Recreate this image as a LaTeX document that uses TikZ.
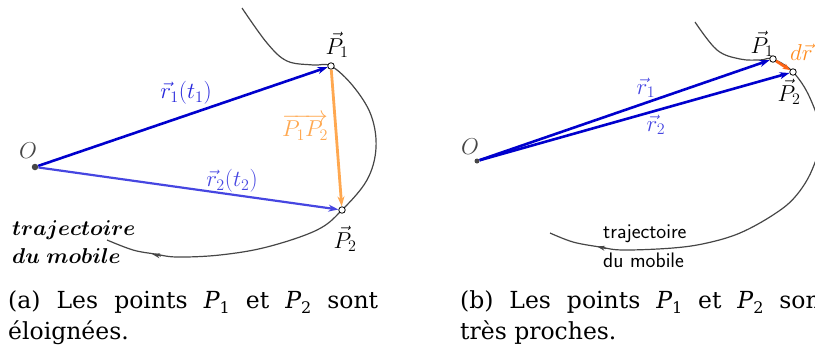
\RequirePackage{fix-cm}
\documentclass[tikz,border=0pt]{standalone}
\usepackage{fontspec}
\usepackage{bm}
\newfontfamily\capfont{DejaVu Serif}
\usetikzlibrary{arrows.meta}
\definecolor{dblue}{RGB}{0,0,205}
\definecolor{mblue}{RGB}{70,70,225}
\definecolor{lblue}{RGB}{40,40,220}
\definecolor{lorange}{RGB}{255,168,80}
\definecolor{dorange}{RGB}{255,100,20}
\definecolor{lbl}{RGB}{255,140,30}
\definecolor{curvegray}{RGB}{70,70,70}
\pgfdeclarelayer{background}
\pgfsetlayers{background,main}
\newcommand{\capP}[1]{{\itshape P}\raisebox{-0.22em}{\fontsize{16}{18}\selectfont #1}}
\begin{document}
\begin{tikzpicture}[x=1pt,y=-1pt,
  vec/.style={line width=2.6pt,-{Stealth[length=10pt,width=7pt]}},
  ptnode/.style={circle,draw=black,fill=white,inner sep=0pt,minimum size=6.5pt,line width=0.8pt},
  orig/.style={circle,fill=curvegray,inner sep=0pt,minimum size=6.5pt},
  traj/.style={draw=curvegray,line width=1.2pt},
  trajtip/.style={draw=curvegray,line width=1.2pt,-{Stealth[length=8pt,width=5pt]}},
  lab/.style={inner sep=0pt,font=\fontsize{23}{27}\selectfont},
  captext/.style={anchor=base west,inner sep=0pt,font=\capfont\fontsize{23.5}{27}\selectfont}]
\useasboundingbox (0,0) rectangle (815,351);
\clip (0,0) rectangle (815,351);

% ---------- panel (a) ----------
\node[orig] (Oa) at (35,167) {};
\node[ptnode] (P1a) at (331,66) {};
\node[ptnode] (P2a) at (342,210) {};
\coordinate (tipa1) at (161,256);
\coordinate (tipa2) at (152,254);
\begin{pgfonlayer}{background}
\draw[traj] plot[smooth,tension=0.6] coordinates {(242,8) (267,43) (287,61) (313,65) (P1a.center) (353,86) (371,115) (376,148) (367,180) (P2a.center) (317,230) (267,247) (220,255) (177,257) (155,254) (133,250) (107,240)};
\end{pgfonlayer}
\draw[trajtip] (tipa1) -- (tipa2);
\draw[vec,dblue] (Oa) -- (P1a);
\draw[vec,mblue,line width=2.2pt] (Oa) -- (P2a);
\draw[vec,lorange,line width=2.8pt] (P1a) -- (P2a);

\node[lab,text=curvegray] (Oalab) at (28,151) {$O$};
\node[lab,text=lblue] (r1a) at (186,93) {$\vec r_1(t_1)$};
\node[lab,text=mblue] (r2a) at (232,181) {$\vec r_2(t_2)$};
\node[lab,text=lorange] (P12a) at (305,127) {$\overrightarrow{P_1P_2}$};
\node[lab] (P1alab) at (337,45) {$\vec P_1$};
\node[lab] (P2alab) at (345,239) {$\vec P_2$};
\node[anchor=base west,inner sep=0pt,font=\fontsize{21.5}{25}\selectfont] (tra) at (12,235) {$\bm{trajectoire}$};
\node[anchor=base west,inner sep=0pt,font=\fontsize{21.5}{25}\selectfont] (dua) at (12,263) {$\bm{du\ mobile}$};

% ---------- panel (b) ----------
\node[orig,minimum size=5pt] (Ob) at (477,161) {};
\node[ptnode] (P1b) at (773,59) {};
\node[ptnode] (P2b) at (793,72) {};
\coordinate (tipb1) at (606,248.5);
\coordinate (tipb2) at (597,246.5);
\begin{pgfonlayer}{background}
\draw[traj] plot[smooth,tension=0.6] coordinates {(695,22) (717,50) (740,59) (760,60) (P1b.center) (P2b.center) (810,98) (821,135) (812,170) (795,197) (773,215) (740,233) (707,243) (673,248) (623,250) (600,247) (573,242) (550,233)};
\end{pgfonlayer}
\draw[trajtip] (tipb1) -- (tipb2);
\draw[vec,dblue] (Ob) -- (P1b);
\draw[vec,dblue] (Ob) -- (P2b);
\draw[dorange,line width=2.8pt,-{Stealth[length=7pt,width=6pt]}] (P1b) -- (P2b);

\node[lab,text=curvegray] (Oblab) at (470,147) {$O$};
\node[lab,text=mblue] (r1b) at (646,88) {$\vec r_1$};
\node[lab,text=mblue] (r2b) at (656,125) {$\vec r_2$};
\node[lab] (P1blab) at (762,44) {$\vec P_1$};
\node[lab] (P2blab) at (789,92) {$\vec P_2$};
\node[lab,text=lbl,anchor=west] (drb) at (790,52) {$d\vec r$};
\node[anchor=base west,inner sep=0pt,font=\sffamily\fontsize{21}{25}\selectfont] (trb) at (603,238) {trajectoire};
\node[anchor=base west,inner sep=0pt,font=\sffamily\fontsize{21}{25}\selectfont] (dub) at (603,267) {du mobile};

% ---------- captions ----------
\node[captext] (capa1) at (8,308) {\makebox[370pt][s]{(a) Les points \capP{1} et \capP{2} sont}};
\node[captext] (capa2) at (8,339) {éloignées.};
\node[captext] (capb1) at (460,308) {\makebox[370pt][s]{(b) Les points \capP{1} et \capP{2} sont}};
\node[captext] (capb2) at (460,339) {très proches.};
\end{tikzpicture}
\end{document}
